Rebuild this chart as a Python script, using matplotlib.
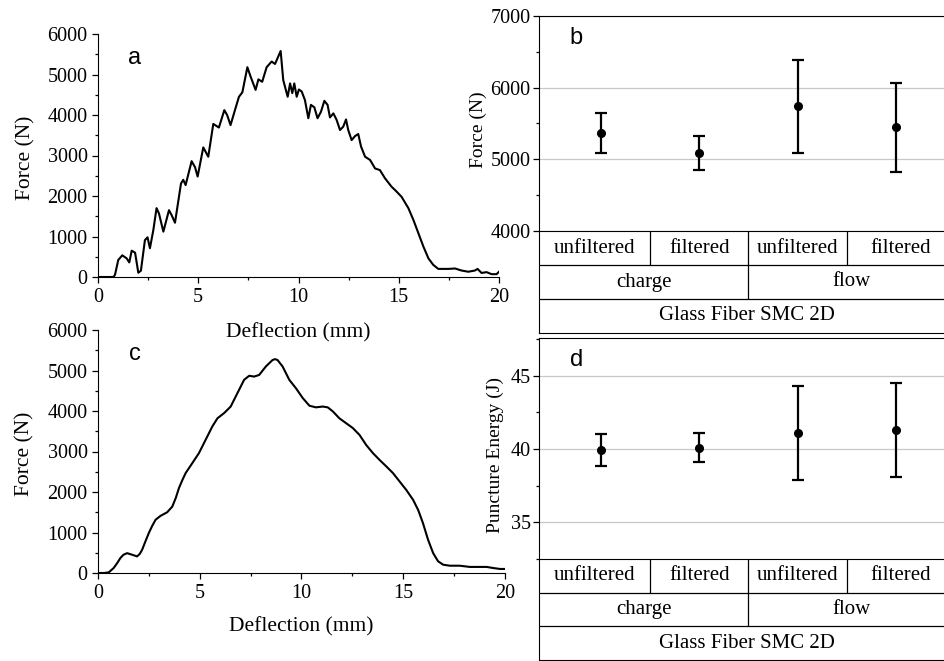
import matplotlib.pyplot as plt
import numpy as np
from matplotlib.ticker import MultipleLocator

plt.rcParams['font.family'] = 'Liberation Serif'

# unfiltered force-deflection trace
defl_raw = [0.0, 0.78, 0.85, 1.01, 1.21, 1.43, 1.56, 1.68, 1.85, 2.01, 2.14, 2.34,
            2.47, 2.59, 2.76, 2.92, 3.04, 3.26, 3.54, 3.67, 3.84, 4.14, 4.25, 4.37,
            4.67, 4.84, 4.97, 5.25, 5.50, 5.75, 6.03, 6.30, 6.44, 6.61, 6.83, 7.03,
            7.20, 7.45, 7.61, 7.86, 8.00, 8.19, 8.41, 8.66, 8.83, 9.11, 9.24, 9.46,
            9.58, 9.69, 9.79, 9.91, 10.02, 10.16, 10.32, 10.49, 10.62, 10.79, 10.95,
            11.12, 11.29, 11.45, 11.57, 11.74, 11.90, 12.07, 12.23, 12.37, 12.48,
            12.65, 12.82, 12.98, 13.12, 13.32, 13.57, 13.82, 14.06, 14.31, 14.64,
            14.89, 15.14, 15.48, 15.73, 15.98, 16.23, 16.48, 16.72, 16.97, 17.47,
            17.81, 18.13, 18.47, 18.80, 18.93, 19.13, 19.38, 19.63, 19.88, 20.0]
force_raw = [0, 0, 60, 420, 535, 460, 360, 650, 600, 106, 155, 910,
             980, 710, 1160, 1700, 1570, 1120, 1650, 1530, 1340, 2310, 2400, 2270,
             2860, 2710, 2480, 3200, 2970, 3780, 3690, 4120, 4000, 3750, 4120, 4450,
             4560, 5180, 4950, 4620, 4880, 4820, 5180, 5320, 5260, 5580, 4860, 4450,
             4780, 4540, 4780, 4450, 4630, 4580, 4370, 3920, 4250, 4190, 3920,
             4080, 4350, 4250, 3940, 4040, 3880, 3630, 3710, 3890, 3630,
             3380, 3480, 3530, 3220, 2970, 2890, 2680, 2640, 2440, 2230,
             2110, 1980, 1700, 1410, 1080, 750, 460, 300, 200, 200,
             210, 160, 130, 160, 200, 100, 120, 70, 70, 130]

# filtered force-deflection trace
defl_filt = [0.0, 0.30, 0.53, 0.77, 0.95, 1.10, 1.25, 1.43, 1.68, 1.92, 2.05, 2.17,
             2.33, 2.50, 2.67, 2.83, 3.07, 3.40, 3.65, 3.82, 3.98, 4.15, 4.31, 4.63,
             4.96, 5.29, 5.62, 5.87, 6.20, 6.52, 6.85, 7.18, 7.43, 7.67, 7.92, 8.25,
             8.58, 8.70, 8.82, 9.07, 9.40, 9.73, 10.06, 10.39, 10.71, 11.04, 11.29,
             11.54, 11.86, 12.19, 12.52, 12.85, 13.18, 13.51, 13.84, 14.17, 14.49,
             14.82, 15.15, 15.48, 15.73, 15.97, 16.22, 16.47, 16.71, 16.96, 17.29,
             17.78, 18.27, 18.77, 19.10, 19.42, 19.75, 20.0]
force_filt = [0, 0, 16, 123, 250, 370, 450, 490, 450, 410, 470, 575,
              780, 990, 1170, 1315, 1410, 1500, 1640, 1850, 2100, 2300, 2470, 2710,
              2960, 3290, 3620, 3820, 3950, 4110, 4440, 4770, 4870, 4850, 4890, 5100,
              5260, 5280, 5260, 5100, 4770, 4560, 4320, 4130, 4090, 4110, 4090,
              3990, 3820, 3700, 3580, 3410, 3160, 2960, 2790, 2630, 2470,
              2260, 2050, 1810, 1560, 1230, 820, 490, 290, 205, 180,
              180, 150, 150, 150, 123, 100, 100]

filters = ['unfiltered', 'filtered', 'unfiltered', 'filtered']
groups = ['charge', 'flow']
material = 'Glass Fiber SMC 2D'

force_mean = np.array([5370, 5090, 5740, 5450])
force_lo = np.array([5090, 4850, 5090, 4830])
force_hi = np.array([5640, 5330, 6390, 6070])

energy_mean = np.array([39.95, 40.1, 41.1, 41.3])
energy_lo = np.array([38.85, 39.1, 37.9, 38.1])
energy_hi = np.array([41.05, 41.1, 44.3, 44.5])

W, H = 945, 661
fig = plt.figure(figsize=(W / 100, H / 100), dpi=100)


def px_axes(left, top, right, bottom):
    ax = fig.add_axes([left / W, 1 - bottom / H, (right - left) / W, (bottom - top) / H])
    ax.patch.set_visible(False)
    return ax


def curve_panel(ax, x, y, letter, xlabel_y):
    ax.plot(x, y, color='black', lw=1.5, solid_joinstyle='round')
    ax.set_xlim(0, 20)
    ax.set_ylim(0, 6000)
    ax.spines['top'].set_visible(False)
    ax.spines['right'].set_visible(False)
    ax.xaxis.set_major_locator(MultipleLocator(5))
    ax.xaxis.set_minor_locator(MultipleLocator(2.5))
    ax.yaxis.set_major_locator(MultipleLocator(1000))
    ax.yaxis.set_minor_locator(MultipleLocator(500))
    ax.tick_params(which='both', direction='out', labelsize=14.5, width=0.9)
    ax.tick_params(which='major', length=4)
    ax.tick_params(which='minor', length=2.5)
    ax.tick_params(axis='x', pad=4)
    ax.set_xlabel('Deflection (mm)', fontsize=15.5)
    ax.set_ylabel('Force (N)', fontsize=15.5)
    ax.xaxis.set_label_coords(0.5, xlabel_y)
    ax.yaxis.set_label_coords(-0.155, 0.49)
    ax.text(0.09, 0.90, letter, transform=ax.transAxes, family='Liberation Sans',
            fontsize=17, ha='center', va='center')


def interval_panel(plot_box, table_box, mean, lo, hi, ylim, major, minor,
                   ylabel, label_x, letter):
    x0, x1 = 0.37, 4.6
    pos = np.arange(1, len(mean) + 1)

    ax = px_axes(*plot_box)
    ax.errorbar(pos, mean, yerr=[mean - lo, hi - mean], fmt='o', color='black',
                ms=5.5, lw=1.6, capsize=4.3, capthick=1.6)
    ax.set_xlim(x0, x1)
    ax.set_ylim(*ylim)
    ax.yaxis.set_major_locator(MultipleLocator(major))
    ax.yaxis.set_minor_locator(MultipleLocator(minor))
    ax.grid(axis='y', which='major', color='#c8c8c8', lw=0.9)
    ax.set_axisbelow(True)
    ax.tick_params(axis='x', which='both', bottom=False, labelbottom=False)
    ax.tick_params(axis='y', which='both', direction='out', labelsize=14.5,
                   width=0.9, pad=2)
    ax.tick_params(axis='y', which='major', length=4)
    ax.tick_params(axis='y', which='minor', length=2.5)
    for side in ('right', 'bottom'):
        ax.spines[side].set_visible(False)
    ax.set_ylabel(ylabel, fontsize=14)
    ax.yaxis.set_label_coords(label_x, 0.47)
    ax.text(0.09, 0.9, letter, transform=ax.transAxes, family='Liberation Sans',
            fontsize=17, ha='center', va='center')

    # category table under the plot
    tab = px_axes(*table_box)
    tab.set_xlim(x0, x1)
    tab.set_ylim(0, 3)
    tab.set_xticks([])
    tab.set_yticks([])
    tab.spines['right'].set_visible(False)
    tab.hlines([1, 2], x0, x1, color='black', lw=0.9)
    tab.vlines([1.5, 2.5, 3.5], 2, 3, color='black', lw=0.9)
    tab.vlines([2.5], 1, 2, color='black', lw=0.9)
    edges = [x0, 1.5, 2.5, 3.5, x1]
    for i, name in enumerate(filters):
        tab.text((edges[i] + edges[i + 1]) / 2, 2.5, name, fontsize=15,
                 ha='center', va='center')
    group_edges = [x0, 2.5, x1]
    for i, name in enumerate(groups):
        tab.text((group_edges[i] + group_edges[i + 1]) / 2, 1.5, name, fontsize=15,
                 ha='center', va='center')
    tab.text((x0 + x1) / 2, 0.5, material, fontsize=15, ha='center', va='center')


ax_a = px_axes(98, 34, 499, 277)
curve_panel(ax_a, defl_raw, force_raw, 'a', -0.19)

ax_c = px_axes(98, 330, 505, 573)
curve_panel(ax_c, defl_filt, force_filt, 'c', -0.18)

interval_panel((539, 16, 955, 231), (539, 231, 955, 333),
               force_mean, force_lo, force_hi, (4000, 7000), 1000, 500,
               'Force (N)', -0.125, 'b')
interval_panel((539, 338, 955, 559), (539, 559, 955, 660),
               energy_mean, energy_lo, energy_hi, (32.47, 47.6), 5, 2.5,
               'Puncture Energy (J)', -0.085, 'd')

fig.savefig('out.png', dpi=100)
